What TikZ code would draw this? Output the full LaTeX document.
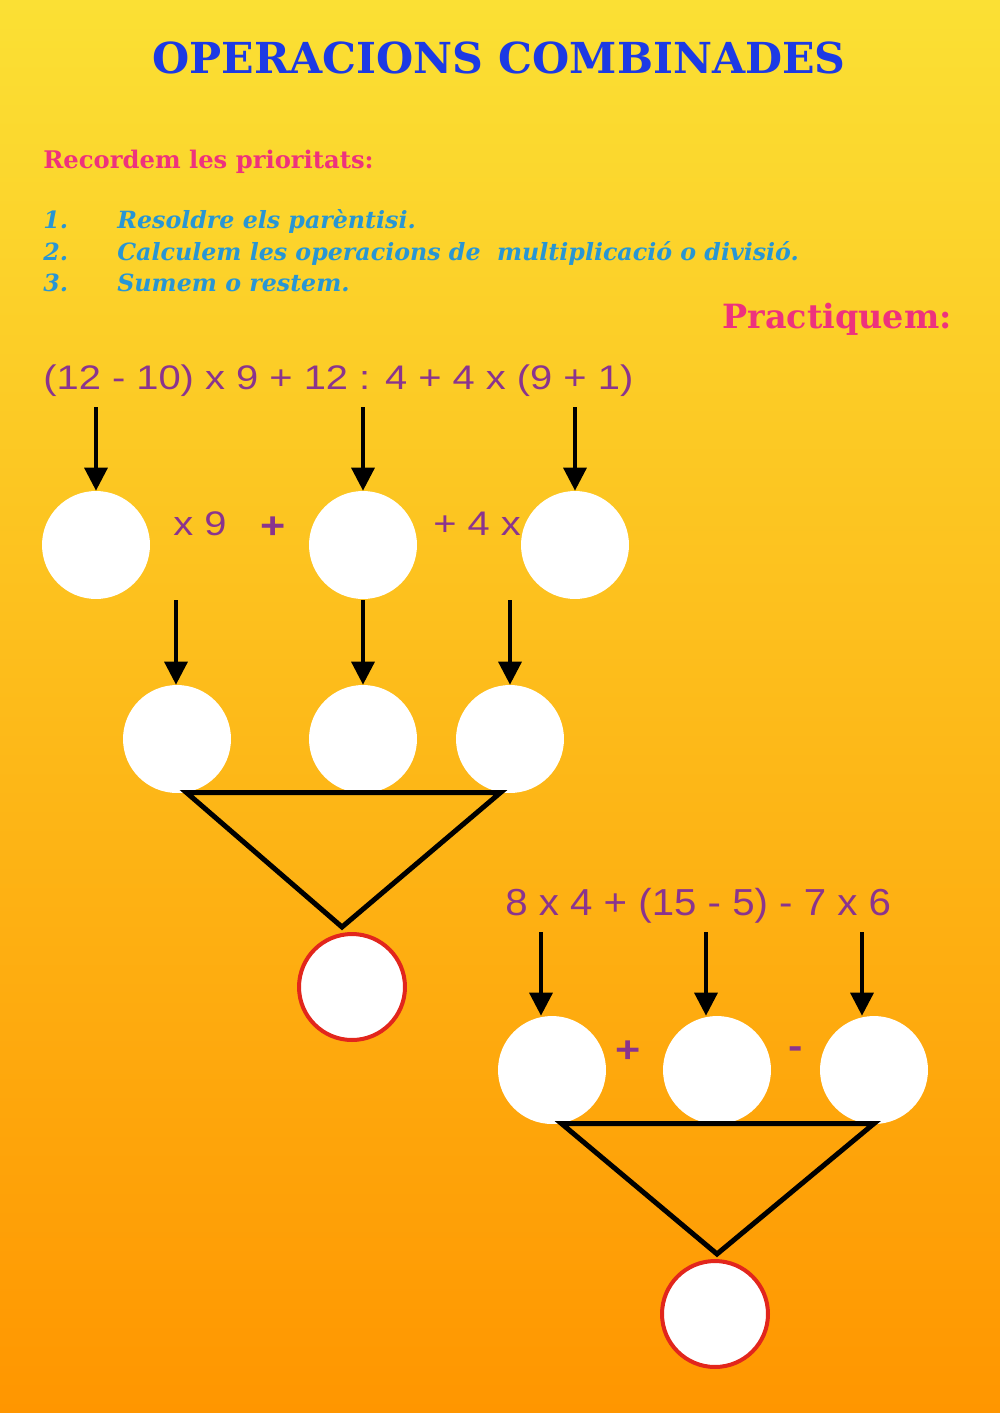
\documentclass[tikz,border=0pt]{standalone}
\usepackage{fontspec}
\newfontfamily\slabfont{DejaVu Serif}
\newfontfamily\exprafont{Liberation Sans}[FakeStretch=1.17]
\newfontfamily\exprbfont{Liberation Sans}[FakeStretch=1.07]
\usetikzlibrary{arrows.meta}
\definecolor{bgtop}{RGB}{251,224,52}
\definecolor{bgbottom}{RGB}{255,150,0}
\definecolor{titleblue}{RGB}{28,58,228}
\definecolor{pink1}{RGB}{238,50,125}
\definecolor{listblue}{RGB}{40,150,212}
\definecolor{oppurple}{RGB}{138,52,142}
\definecolor{ringred}{RGB}{226,38,28}

\begin{document}
\begin{tikzpicture}[x=0.02cm, y=-0.02cm,
  blank/.style={circle, fill=white, inner sep=0pt, minimum size=2.16cm},
  result/.style={circle, fill=white, draw=ringred, line width=0.08cm, inner sep=0pt, minimum size=2.12cm},
  arr/.style={line width=0.07cm, -{Triangle[width=0.46cm, length=0.46cm]}},
  tri/.style={line width=0.1cm, line join=miter},
  expra/.style={text=oppurple, inner sep=0pt, anchor=base west, font=\exprafont\fontsize{19.4}{22}\selectfont},
  exprb/.style={text=oppurple, inner sep=0pt, anchor=base west, font=\exprbfont\fontsize{21.4}{24}\selectfont},
  sign/.style={text=oppurple, inner sep=0pt, font=\exprafont\bfseries\fontsize{21}{24}\selectfont},
  listitem/.style={text=listblue, inner sep=0pt, anchor=base west, font=\slabfont\bfseries\itshape\fontsize{13.5}{16}\selectfont}]

  % background
  \shade[top color=bgtop, bottom color=bgbottom] (0,0) rectangle (1000,1413);

  % headings
  \node[anchor=base, inner sep=0pt, text=titleblue, font=\slabfont\bfseries\fontsize{24.3}{28}\selectfont] (title) at (499,73) {OPERACIONS COMBINADES};
  \node[anchor=base west, inner sep=0pt, text=pink1, font=\slabfont\bfseries\fontsize{13.8}{16}\selectfont] (recall) at (43,168) {Recordem les prioritats:};
  \node[listitem] (n1) at (43,228) {1.};
  \node[listitem] (n2) at (43,260) {2.};
  \node[listitem] (n3) at (43,291) {3.};
  \node[listitem] (r1) at (117,228) {Resoldre els parèntisi.};
  \node[listitem] (r2) at (117,260) {Calculem les operacions de\ \ multiplicació o divisió.};
  \node[listitem] (r3) at (117,291) {Sumem o restem.};
  \node[anchor=base east, inner sep=0pt, text=pink1, font=\slabfont\bfseries\fontsize{19}{22}\selectfont] (practice) at (952,328) {Practiquem:};

  % first exercise
  \node[expra] (expr1) at (43,389) {(12 - 10) x 9 + 12 : 4 + 4 x (9 + 1)};
  \coordinate (s1) at (96,407);
  \coordinate (s2) at (363,407);
  \coordinate (s3) at (575,407);
  \node[blank] (a1) at (96,545) {};
  \node[blank] (a2) at (363,545) {};
  \node[blank] (a3) at (575,545) {};
  \node[expra] (times9) at (173,535) {x 9};
  \node[sign] (plusa) at (273,528) {+};
  \node[expra] (plus4x) at (433,535) {+ 4 x};
  \draw[arr] (s1) -- (a1);
  \draw[arr] (s2) -- (a2);
  \draw[arr] (s3) -- (a3);

  \coordinate (t1) at (176,600);
  \coordinate (t2) at (363,600);
  \coordinate (t3) at (510,600);
  \node[blank] (b1) at (177,739) {};
  \node[blank] (b2) at (363,739) {};
  \node[blank] (b3) at (510,739) {};
  \draw[arr] (t1) -- (t1 |- b1.north);
  \draw[arr] (t2) -- (b2);
  \draw[arr] (t3) -- (b3);

  \coordinate (apex1) at (342,927);
  \draw[tri] (b1.-80) -- (b3.-100) -- (apex1) -- cycle;
  \node[result] (res1) at (352,987) {};

  % second exercise
  \node[exprb] (expr2) at (505,915) {8 x 4 + (15 - 5) - 7 x 6};
  \coordinate (u1) at (541,932);
  \coordinate (u2) at (706,932);
  \coordinate (u3) at (862,932);
  \node[blank] (d1) at (552,1070) {};
  \node[blank] (d2) at (717,1070) {};
  \node[blank] (d3) at (874,1070) {};
  \node[sign] (plusd) at (628,1052) {+};
  \node[sign] (minusd) at (796,1053) {-};
  \draw[arr] (u1) -- (u1 |- d1.north);
  \draw[arr] (u2) -- (u2 |- d2.north);
  \draw[arr] (u3) -- (u3 |- d3.north);

  \coordinate (apex2) at (717,1254);
  \draw[tri] (d1.-80) -- (d1.-80 -| d3.south) -- (apex2) -- cycle;
  \node[result] (res2) at (715,1314) {};
\end{tikzpicture}
\end{document}
